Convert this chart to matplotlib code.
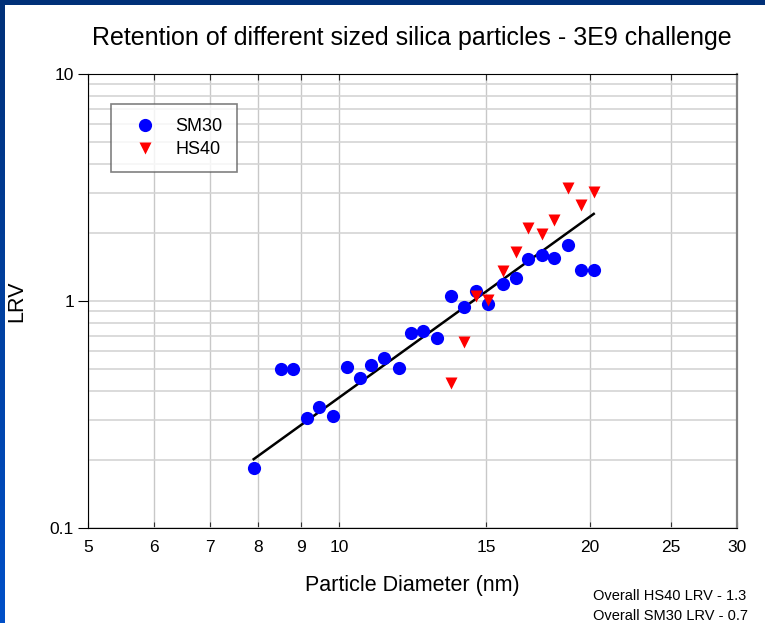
import numpy as np
import matplotlib.pyplot as plt
from matplotlib.colors import LinearSegmentedColormap
from matplotlib.ticker import FixedLocator, NullFormatter, LogLocator

# data
sm30_d = [7.91, 8.52, 8.81, 9.15, 9.47, 9.83, 10.21, 10.6, 10.91, 11.32, 11.81,
          12.21, 12.62, 13.12, 13.61, 14.12, 14.59, 15.1, 15.74, 16.3, 16.83,
          17.52, 18.1, 18.83, 19.5, 20.23]
sm30_lrv = [0.183, 0.502, 0.502, 0.306, 0.342, 0.312, 0.510, 0.459, 0.521, 0.563,
            0.508, 0.725, 0.735, 0.687, 1.05, 0.938, 1.107, 0.97, 1.184, 1.259,
            1.526, 1.60, 1.547, 1.77, 1.365, 1.374]
hs40_d = [13.61, 14.12, 14.59, 15.1, 15.74, 16.3, 16.83, 17.52, 18.1, 18.83, 19.5, 20.23]
hs40_lrv = [0.437, 0.662, 1.05, 1.01, 1.356, 1.638, 2.10, 1.97, 2.27, 3.16, 2.64, 3.03]
fit_d = [7.9, 20.2]
fit_lrv = [0.201, 2.42]

x_ticks = [5, 6, 7, 8, 9, 10, 15, 20, 25, 30]
y_ticks = [0.1, 1, 10]
notes = ["Overall HS40 LRV - 1.3", "Overall SM30 LRV - 0.7"]

plt.rcParams['font.family'] = ['Liberation Sans', 'DejaVu Sans']

fig = plt.figure(figsize=(7.65, 6.23), dpi=100)

# blue slide frame on the left and top
left_strip = fig.add_axes([0, 0, 5 / 765, 1])
grad = np.linspace(0, 1, 256).reshape(-1, 1)
cmap = LinearSegmentedColormap.from_list('frame', ['#0050c8', '#003078'])
left_strip.imshow(grad, aspect='auto', cmap=cmap, origin='lower')
left_strip.axis('off')
top_strip = fig.add_axes([0, 1 - 5 / 623, 1, 5 / 623])
top_strip.set_facecolor('#003078')
top_strip.set_xticks([])
top_strip.set_yticks([])
for s in top_strip.spines.values():
    s.set_visible(False)

ax = fig.add_axes([88 / 765, 95 / 623, 649 / 765, 454 / 623])
ax.set_xscale('log')
ax.set_yscale('log')
ax.set_xlim(5, 30)
ax.set_ylim(0.1, 10)

# grid
ax.xaxis.set_major_locator(FixedLocator(x_ticks))
ax.xaxis.set_minor_locator(FixedLocator([]))
ax.set_xticklabels([str(t) for t in x_ticks])
ax.yaxis.set_major_locator(FixedLocator(y_ticks))
ax.set_yticklabels(['0.1', '1', '10'])
ax.yaxis.set_minor_locator(LogLocator(base=10, subs=np.arange(2, 10)))
ax.yaxis.set_minor_formatter(NullFormatter())
ax.grid(True, which='major', axis='x', color='#c8c8c8', lw=1)
ax.grid(True, which='both', axis='y', color='#d4d4d4', lw=1.2)
ax.set_axisbelow(True)

ax.tick_params(axis='x', which='major', direction='in', length=4, top=True,
               labelsize=12.5, pad=9, color='#303030')
ax.tick_params(axis='y', which='major', direction='out', length=7,
               labelsize=12.5, pad=3)
ax.tick_params(axis='y', which='minor', length=0)
ax.spines['right'].set_color('#808080')
ax.spines['right'].set_linewidth(1.6)

ax.plot(fit_d, fit_lrv, color='black', lw=1.8, zorder=2)
ax.plot(sm30_d, sm30_lrv, 'o', color='#0000ff', ms=9.5, mec='none', label='SM30', zorder=3)
ax.plot(hs40_d, hs40_lrv, 'v', color='#ff0000', ms=9, mec='none', label='HS40', zorder=4)

leg = ax.legend(loc='upper left', bbox_to_anchor=(23 / 649, 1 - 30 / 454),
                frameon=True, fancybox=False, fontsize=13, borderpad=0.8,
                handletextpad=0.6, labelspacing=0.3, borderaxespad=0,
                handlelength=2.15)
leg.get_frame().set_edgecolor('#606060')
leg.get_frame().set_linewidth(1.2)

ax.set_xlabel('Particle Diameter (nm)', fontsize=15.5, labelpad=14)
ax.set_ylabel('LRV', fontsize=15.5, labelpad=16)
fig.text(412 / 765, 1 - 38 / 623, 'Retention of different sized silica particles - 3E9 challenge',
         ha='center', va='center', fontsize=18)
fig.text(593 / 765, 1 - 596 / 623, notes[0], ha='left', va='center', fontsize=10.5)
fig.text(593 / 765, 1 - 616 / 623, notes[1], ha='left', va='center', fontsize=10.5)

fig.savefig('out.png', dpi=100)
